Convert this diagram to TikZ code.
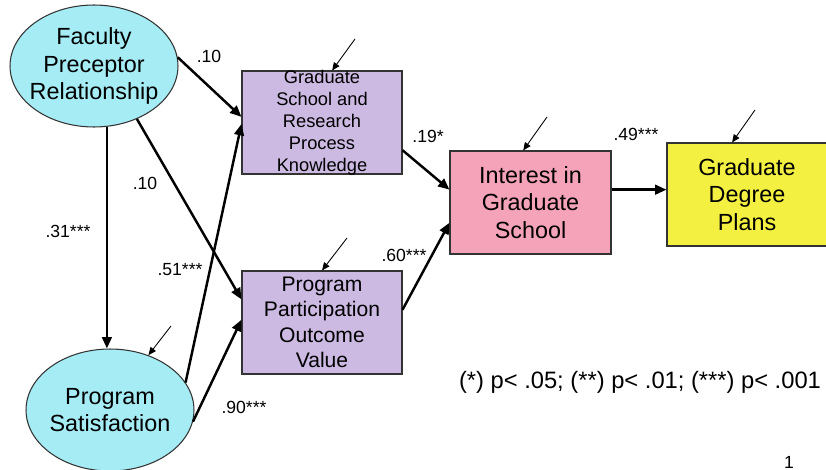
\documentclass[tikz,border=0pt]{standalone}
\usepackage{fontspec}
\setmainfont{Liberation Sans}
\usetikzlibrary{shapes.geometric,arrows.meta}
\definecolor{latcyan}{RGB}{166,236,245}
\definecolor{obslav}{RGB}{204,186,226}
\definecolor{obspink}{RGB}{245,163,184}
\definecolor{obsyel}{RGB}{243,240,66}

\begin{document}
\begin{tikzpicture}[x=0.02cm, y=-0.02cm]
\tikzstyle{latent}=[ellipse, draw=black!80, line width=0.6pt, fill=latcyan, minimum width=3.36cm, minimum height=2.44cm, inner sep=-8pt, align=center, font=\fontsize{13.3}{15.8}\selectfont]
\tikzstyle{obs}=[rectangle, draw=black!80, line width=0.6pt, minimum width=3.2cm, minimum height=2.06cm, inner sep=0pt, align=center, font=\fontsize{13.3}{15.8}\selectfont]
\tikzstyle{effect}=[line width=1.4pt, -{Triangle[length=6.5pt,width=5.5pt]}]
\tikzstyle{err}=[line width=0.5pt, -{Triangle[length=4.5pt,width=3.8pt]}]
\tikzstyle{coef}=[inner sep=0pt, font=\fontsize{10}{12}\selectfont]
	\useasboundingbox (0,0) rectangle (826,470);

	\node[latent] (fpr) at (94,66) {Faculty\\Preceptor\\Relationship};
	\node[latent] (ps) at (110,410) {Program\\Satisfaction};
	\node[obs, fill=obslav, inner ysep=-1.5pt, font=\fontsize{10.4}{12.5}\selectfont] (gsr) at (322,122.5) {Graduate\\School and\\Research\\Process\\Knowledge};
	\node[obs, fill=obslav, font=\fontsize{12}{14.5}\selectfont] (ppo) at (322,322.5) {Program\\Participation\\Outcome\\Value};
	\node[obs, fill=obspink, minimum width=3.22cm] (int) at (530.5,202.5) {Interest in\\Graduate\\School};
	\node[obs, fill=obsyel] (gdp) at (747,194.5) {Graduate\\Degree\\Plans};

	% disturbance terms
	\coordinate (eps) at (171,326);
	\coordinate (egsr) at (355,39);
	\coordinate (eppo) at (347,238);
	\coordinate (eint) at (547,117);
	\coordinate (egdp) at (755,110);

	\draw[effect] (fpr.6) -- (gsr.176);
	\draw[effect] (fpr.-51) -- (ppo.164);
	\draw[effect] (fpr.-78) -- (fpr.-78 |- ps.north);
	\draw[effect] (ps.20) -- (gsr.181);
	\draw[effect] (ps.-8) -- (ppo.178);
	\draw[effect] (gsr.-19) -- (int.171);
	\draw[effect] (ppo.9) -- (int.194);
	\draw[effect] (int.9) -- (int.9 -| gdp.west);

	\draw[err] (eps) -- (ps.55);
	\draw[err] (egsr) -- (gsr.79);
	\draw[err] (eppo) -- (ppo.north);
	\draw[err] (eint) -- (int.98);
	\draw[err] (egdp) -- (gdp.106);

	\node[coef] (c1) at (209,56) {.10};
	\node[coef] (c2) at (145,183) {.10};
	\node[coef] (c3) at (68,231) {.31***};
	\node[coef] (c4) at (180,270) {.51***};
	\node[coef] (c5) at (244,407) {.90***};
	\node[coef] (c6) at (428,136) {.19*};
	\node[coef] (c7) at (404,255) {.60***};
	\node[coef] (c8) at (636,134) {.49***};

	\node[font=\fontsize{13.5}{16}\selectfont] (legend) at (640,382) {(*) p< .05; (**) p< .01; (***) p< .001};
	\node[anchor=south, inner sep=0pt, font=\fontsize{10}{12}\selectfont] (pagenum) at (789,469) {1};
\end{tikzpicture}
\end{document}
